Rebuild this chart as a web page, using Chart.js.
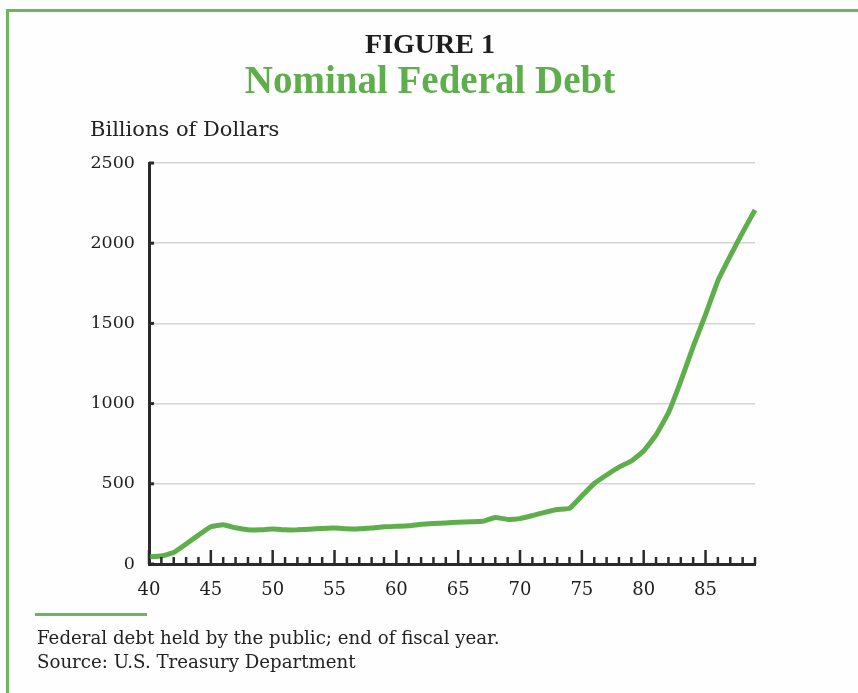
<!DOCTYPE html>
<html>
<head>
<meta charset="utf-8">
<script src="https://cdn.jsdelivr.net/npm/chart.js@4.4.0/dist/chart.umd.min.js"></script>
<style>
  html, body { margin: 0; padding: 0; background: #fff; }
  #wrap { position: relative; width: 858px; height: 693px; overflow: hidden; background: #fefefe; }
  #frame { position: absolute; left: 6px; top: 9px; width: 900px; height: 800px;
           border-left: 3px solid #6cb55a; border-top: 3px solid #6cb55a; }
  #cv { position: absolute; left: 0; top: 0; }
  .t { position: absolute; font-family: "DejaVu Serif", "Liberation Serif", serif; white-space: nowrap; }
  .b { font-family: "Liberation Serif", "DejaVu Serif", serif; }
  #fig { left: 0; width: 860px; text-align: center; top: 28px; font-size: 28px; font-weight: bold; color: #1e1e1e; line-height: 32px; }
  #ttl { left: 0; width: 860px; text-align: center; top: 58px; font-size: 39px; font-weight: bold; color: #5fae4c; line-height: 44px; }
  #ylab { left: 90px; top: 116px; font-size: 21px; color: #222; line-height: 26px; }
  #rule { position: absolute; left: 35px; top: 613px; width: 112px; height: 3px; background: #6cb55a; }
  #note1 { left: 37px; top: 626px; font-size: 18.2px; color: #222; line-height: 24px; }
  #note2 { left: 37px; top: 650px; font-size: 18.2px; color: #222; line-height: 24px; }
</style>
</head>
<body>
<div id="wrap">
  <div id="frame"></div>
  <canvas id="cv" width="858" height="693"></canvas>
  <div class="t b" id="fig">FIGURE 1</div>
  <div class="t b" id="ttl">Nominal Federal Debt</div>
  <div class="t" id="ylab">Billions of Dollars</div>
  <div id="rule"></div>
  <div class="t" id="note1">Federal debt held by the public; end of fiscal year.</div>
  <div class="t" id="note2">Source: U.S. Treasury Department</div>
</div>
<script>
// Fiscal years (19xx)
const years = [40,41,42,43,44,45,46,47,48,49,
               50,51,52,53,54,55,56,57,58,59,
               60,61,62,63,64,65,66,67,68,69,
               70,71,72,73,74,75,76,77,78,79,
               80,81,82,83,84,85,86,87,88,89];
// Federal debt held by the public, billions of dollars
const debt = [45, 50, 72, 125, 180, 232, 245, 226, 214, 213,
              218, 213, 213, 217, 222, 224, 220, 219, 224, 232,
              235, 238, 248, 253, 256, 260, 263, 266, 290, 278,
              283, 302, 322, 340, 347, 425, 502, 555, 604, 642,
              705, 805, 943, 1140, 1355, 1555, 1766, 1921, 2068, 2207];
const yTickValues = [0, 500, 1000, 1500, 2000, 2500];
const xLabelYears = [40, 45, 50, 55, 60, 65, 70, 75, 80, 85];

const GREEN = '#5fae4c';
const AXIS = '#2a2a2a';
const FONT = '"DejaVu Serif", "Liberation Serif", serif';

const innerTicks = {
  id: 'innerTicks',
  afterDatasetsDraw(chart) {
    const ctx = chart.ctx;
    const xs = chart.scales.x, ys = chart.scales.y;
    const bottom = chart.chartArea.bottom, left = chart.chartArea.left;
    ctx.save();
    ctx.strokeStyle = AXIS;
    ctx.lineWidth = 2.5;
    ctx.lineCap = 'butt';
    years.forEach(yr => {
      const px = xs.getPixelForValue(yr);
      const len = xLabelYears.includes(yr) ? 14 : 7;
      ctx.beginPath();
      ctx.moveTo(px, bottom);
      ctx.lineTo(px, bottom - len);
      ctx.stroke();
    });
    ctx.lineWidth = 3;
    yTickValues.forEach(v => {
      const py = ys.getPixelForValue(v);
      ctx.beginPath();
      ctx.moveTo(left, py);
      ctx.lineTo(left + 5, py);
      ctx.stroke();
    });
    ctx.restore();
  }
};

new Chart(document.getElementById('cv'), {
  type: 'line',
  data: {
    datasets: [{
      data: years.map((y, i) => ({ x: y, y: debt[i] })),
      borderColor: GREEN,
      borderWidth: 5,
      pointRadius: 0,
      tension: 0.1,
      fill: false,
      clip: false
    }]
  },
  options: {
    responsive: false,
    animation: false,
    devicePixelRatio: 1,
    layout: { padding: { left: 0, top: 163, right: 103, bottom: 89 } },
    plugins: { legend: { display: false }, tooltip: { enabled: false }, title: { display: false } },
    scales: {
      x: {
        type: 'linear',
        min: 40, max: 89,
        afterFit(s) { s.height = 40; },
        afterBuildTicks(s) { s.ticks = xLabelYears.map(v => ({ value: v })); },
        ticks: {
          autoSkip: false,
          maxRotation: 0,
          padding: 16,
          color: '#1e1e1e',
          font: { family: FONT, size: 18 },
          callback: v => String(v)
        },
        grid: { display: false, drawTicks: false },
        border: { display: true, color: AXIS, width: 3 }
      },
      y: {
        min: 0, max: 2500,
        afterFit(s) { s.width = 149; },
        afterBuildTicks(s) { s.ticks = yTickValues.map(v => ({ value: v })); },
        ticks: {
          padding: 14,
          color: '#1e1e1e',
          font: { family: FONT, size: 17.5 },
          callback: v => String(v)
        },
        grid: { drawTicks: false, color: '#d4d4d4', lineWidth: 1.5 },
        border: { display: true, color: AXIS, width: 3 }
      }
    }
  },
  plugins: [innerTicks]
});
</script>
</body>
</html>
